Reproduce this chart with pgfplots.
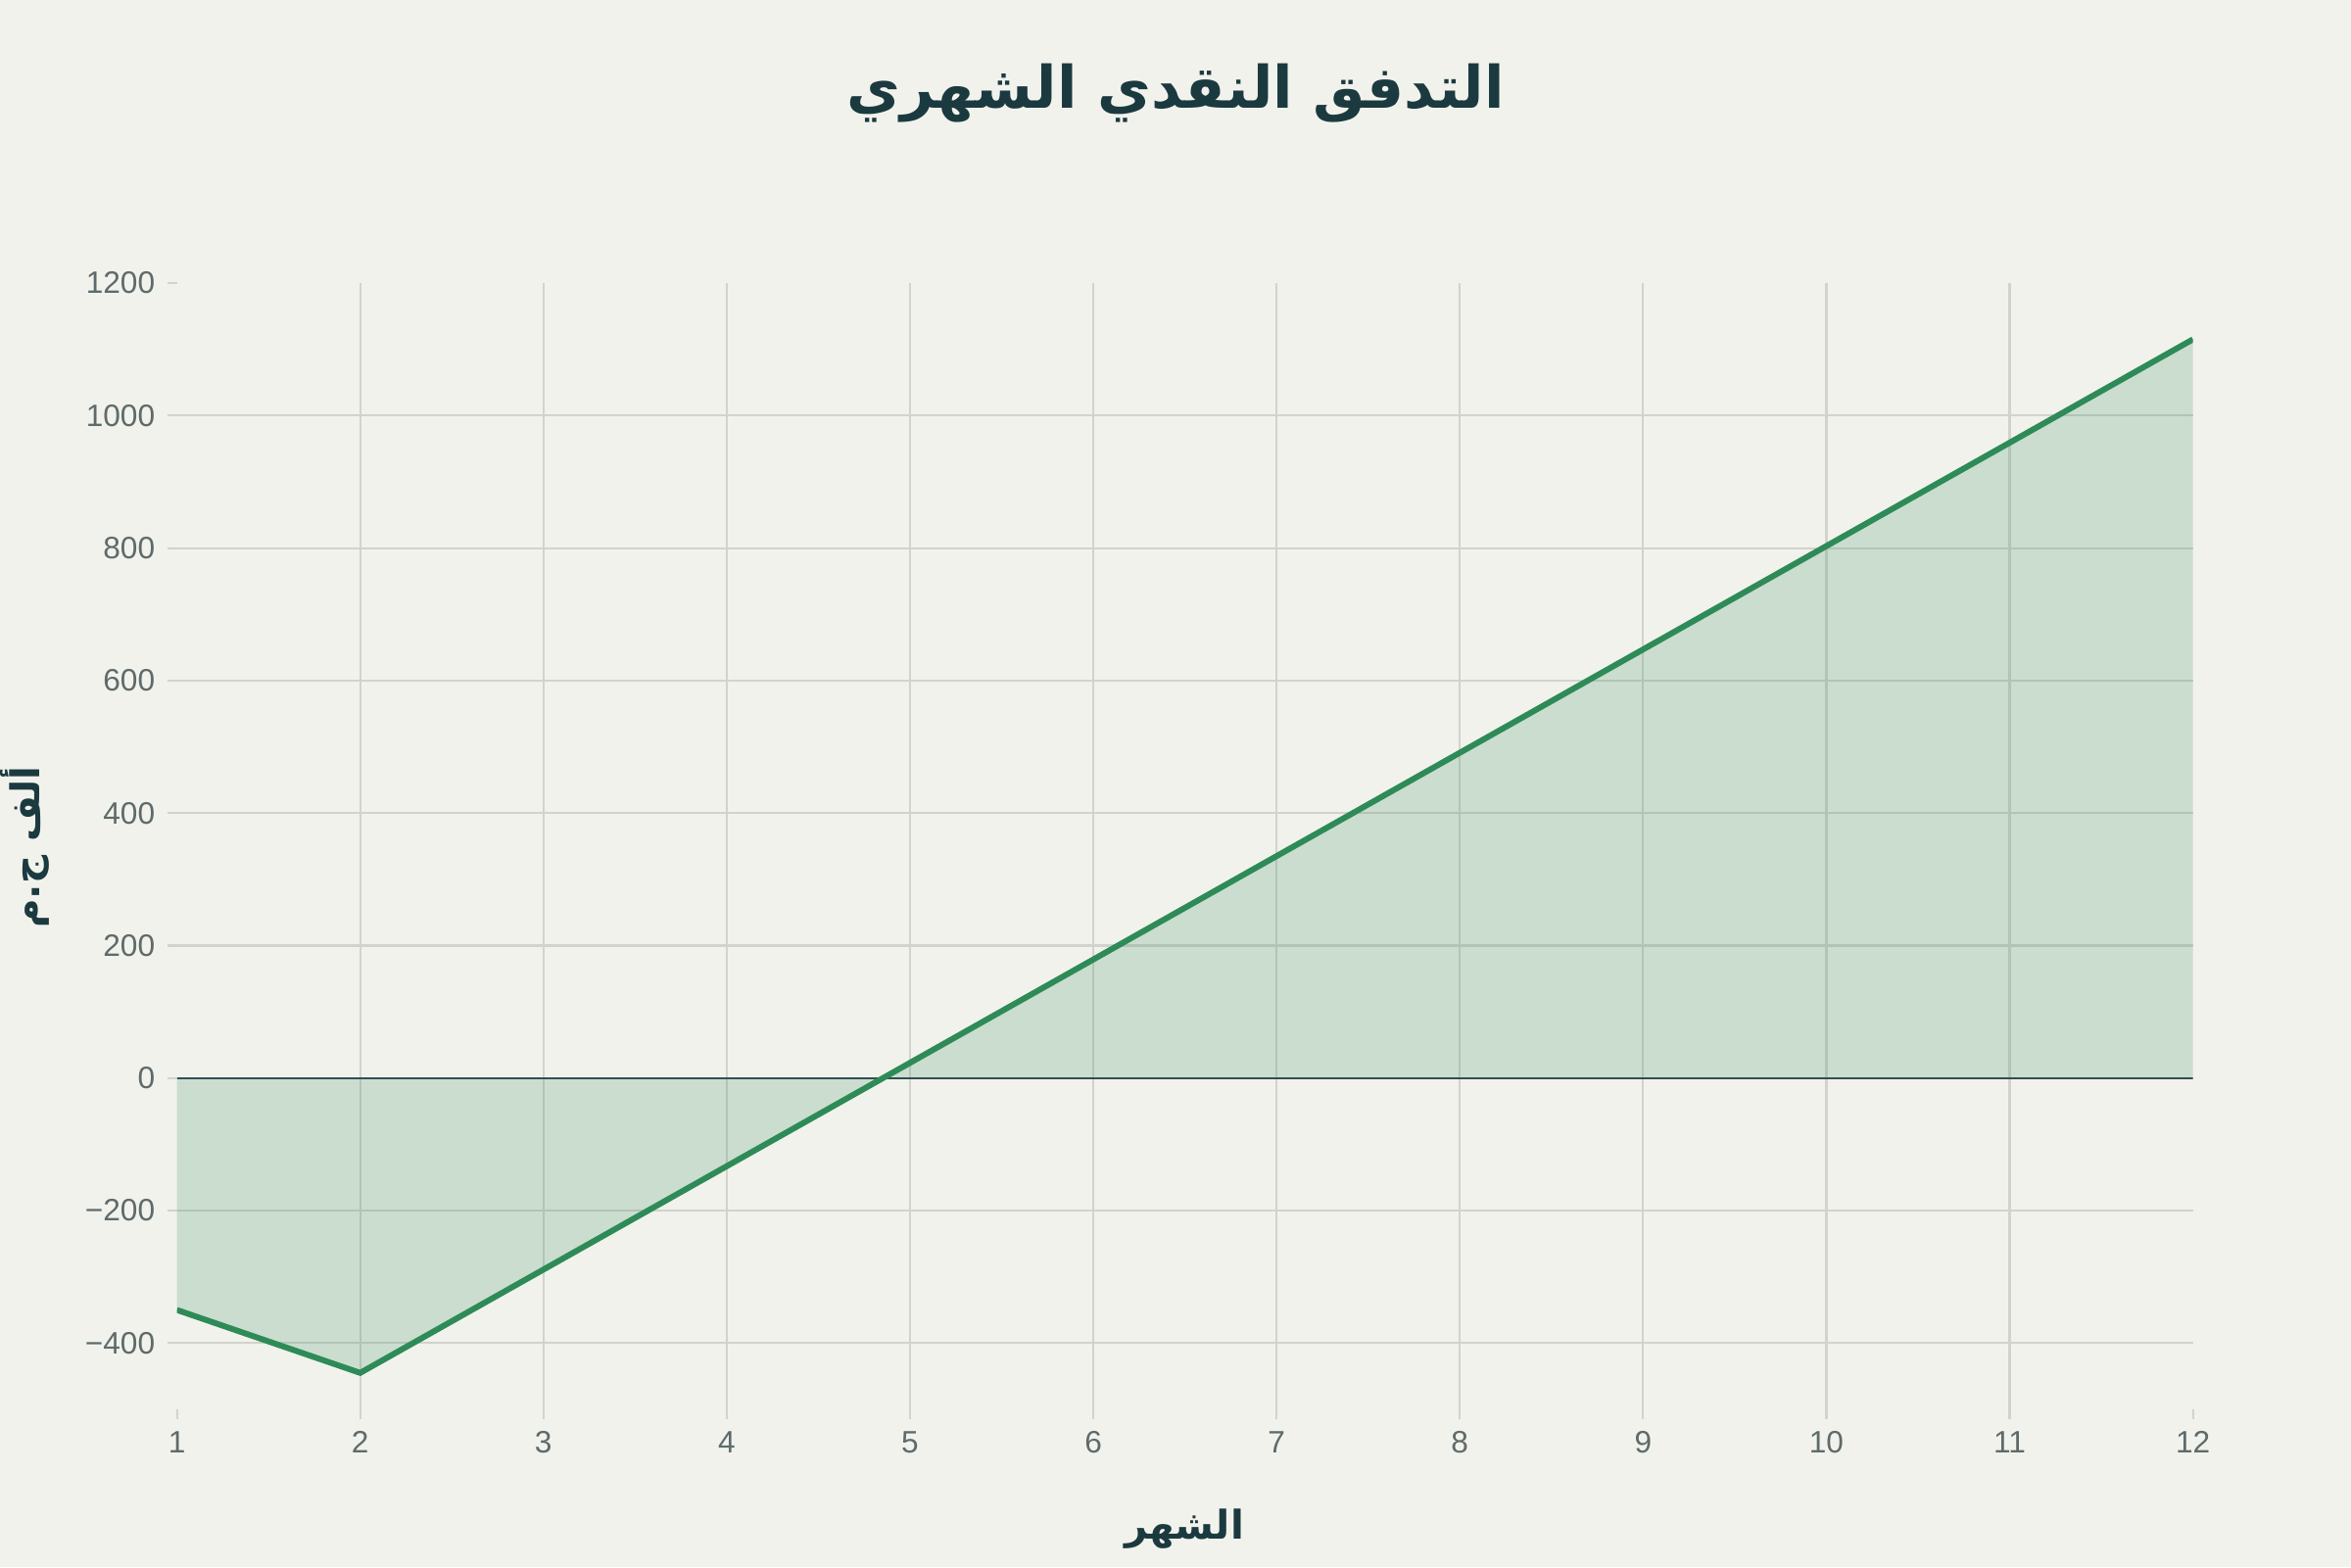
\documentclass[border=0pt]{standalone}
\usepackage{pgfplots}
\pgfplotsset{compat=1.18}
\usepackage{fontspec}
\setmainfont{Liberation Sans}
\newfontfamily\arabicfont[Script=Arabic]{DejaVu Sans}
\TeXXeTstate=1
\definecolor{bg}{HTML}{F2F2ED}
\definecolor{flow}{HTML}{2E8B57}
\definecolor{titlec}{HTML}{1B3A40}
\definecolor{tickc}{HTML}{5E6B6B}
\definecolor{gridc}{HTML}{D2D3CE}
\begin{document}
\begin{tikzpicture}
\fill[bg] (0,0) rectangle (24,16);
\path[use as bounding box] (0,0) rectangle (24,16);
\begin{axis}[
  at={(1.806cm,1.61cm)}, anchor=south west,
  scale only axis, width=20.58cm, height=11.5cm,
  xmin=1, xmax=12, ymin=-500, ymax=1200,
  xtick={1,...,12},
  ytick={-400,-200,0,200,400,600,800,1000,1200},
  yticklabels={−400,−200,0,200,400,600,800,1000,1200},
  xtick pos=bottom, ytick pos=left,
  tick align=outside, major tick length=0.1cm,
  tick style={gridc, line width=0.6pt},
  axis line style={draw=none},
  extra x ticks={2,...,11}, extra x tick labels={},
  extra y ticks={-400,-200,0,200,400,600,800,1000}, extra y tick labels={},
  extra tick style={grid=major, major tick length=0pt},
  major grid style={gridc, line width=0.6pt},
  ticklabel style={font=\fontsize{9}{11}\selectfont, text=tickc},
  /pgf/number format/assume math mode=true,
]
\addplot[draw=none, fill=flow, fill opacity=0.2] coordinates {
  (1,0) (1,-350) (2,-445) (3,-289) (4,-133) (5,23) (6,179) (7,335)
  (8,491) (9,647) (10,803) (11,959) (12,1115) (12,0)
} -- cycle;
\addplot[titlec!90, line width=0.5pt] coordinates {(1,0) (12,0)};
\addplot[flow, line width=1.7pt] coordinates {
  (1,-350) (2,-445) (3,-289) (4,-133) (5,23) (6,179) (7,335)
  (8,491) (9,647) (10,803) (11,959) (12,1115)
};
\end{axis}
\node[text=titlec, font=\fontsize{17}{20}\selectfont\bfseries] at (12,15.05) {\arabicfont\beginR التدفق النقدي الشهري\endR};
\node[text=titlec, font=\fontsize{11.5}{14}\selectfont\bfseries] at (12.09,0.39) {\arabicfont\beginR الشهر\endR};
\node[text=titlec, font=\fontsize{11.5}{14}\selectfont\bfseries, rotate=90] at (0.25,7.35) {\arabicfont\beginR ألف ج.م\endR};
\end{tikzpicture}
\end{document}
